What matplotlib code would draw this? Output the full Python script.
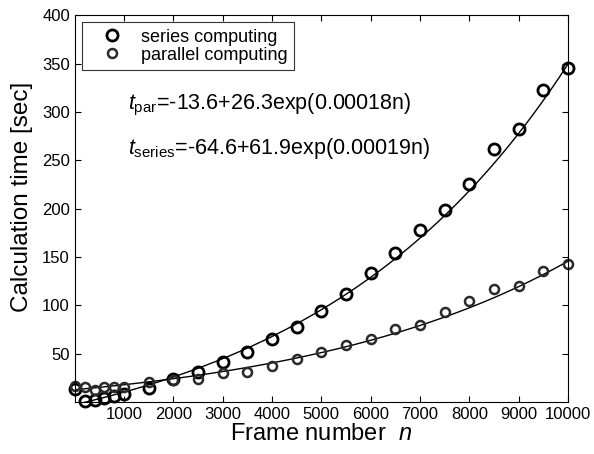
import numpy as np
import matplotlib
matplotlib.use("Agg")
import matplotlib.pyplot as plt

plt.rcParams['font.family'] = ['Liberation Sans', 'DejaVu Sans']
plt.rcParams['mathtext.fontset'] = 'custom'
plt.rcParams['mathtext.rm'] = 'Liberation Sans'
plt.rcParams['mathtext.it'] = 'Liberation Sans:italic'

n_series = [10, 200, 400, 600, 800, 1000, 1500, 2000, 2500, 3000, 3500, 4000,
            4500, 5000, 5500, 6000, 6500, 7000, 7500, 8000, 8500, 9000, 9500, 10000]
t_series = [13, 1, 2, 4.5, 6.5, 8, 14, 24, 31, 41.5, 52, 65,
            78, 94.5, 112, 133, 154, 178, 199, 225, 262, 282, 323, 345]

n_par = [10, 200, 400, 600, 800, 1000, 1500, 2000, 2500, 3000, 3500, 4000,
         4500, 5000, 5500, 6000, 6500, 7000, 7500, 8000, 8500, 9000, 9500, 10000]
t_par = [17, 16, 12, 16, 16, 16, 21, 23, 24, 30.5, 31, 37.5,
         45, 52, 59, 65.5, 75, 80, 93.5, 104, 117, 120, 135, 143]

# fit coefficients shown on the chart
par_fit = (-13.6, 26.3, 0.00018)
series_fit = (-64.6, 61.9, 0.00019)

fig = plt.figure(figsize=(5.94, 4.54), dpi=100)
ax = fig.add_axes([0.126, 0.1145, 0.830, 0.852])

nn = np.linspace(0, 10000, 400)
ax.plot(nn, series_fit[0] + series_fit[1] * np.exp(series_fit[2] * nn), color='black', lw=1.0)
ax.plot(nn, par_fit[0] + par_fit[1] * np.exp(par_fit[2] * nn), color='black', lw=1.0)

ax.plot(n_series, t_series, 'o', mfc='none', mec='black', mew=2.0, ms=8,
        label='series computing', clip_on=False)
ax.plot(n_par, t_par, 'o', mfc='none', mec='#2a2a2a', mew=1.8, ms=6.5,
        label='parallel computing', clip_on=False)

ax.set_xlim(0, 10000)
ax.set_ylim(0, 400)
ax.set_xticks(range(1000, 10001, 1000))
ax.set_yticks(range(50, 401, 50))
ax.tick_params(direction='in', top=True, right=True, length=4, labelsize=12)
for s in ax.spines.values():
    s.set_linewidth(0.8)

ax.set_xlabel(r'Frame number  $n$', fontsize=17, labelpad=1)
ax.set_ylabel('Calculation time [sec]', fontsize=17.5)
ax.yaxis.set_label_coords(-0.085, 0.53)

ax.text(0.108, 0.767, r'$t_{\mathrm{par}}$=-13.6+26.3exp(0.00018n)', transform=ax.transAxes,
        fontsize=15.5, va='center')
ax.text(0.108, 0.656, r'$t_{\mathrm{series}}$=-64.6+61.9exp(0.00019n)', transform=ax.transAxes,
        fontsize=15.5, va='center')

leg = ax.legend(loc='upper left', fontsize=13, frameon=True, fancybox=False,
                edgecolor='black', borderaxespad=0.4, handlelength=2.6,
                handletextpad=0.3, borderpad=0.35, labelspacing=0.05)
leg.get_frame().set_linewidth(0.8)

fig.savefig('out.png', dpi=100)
